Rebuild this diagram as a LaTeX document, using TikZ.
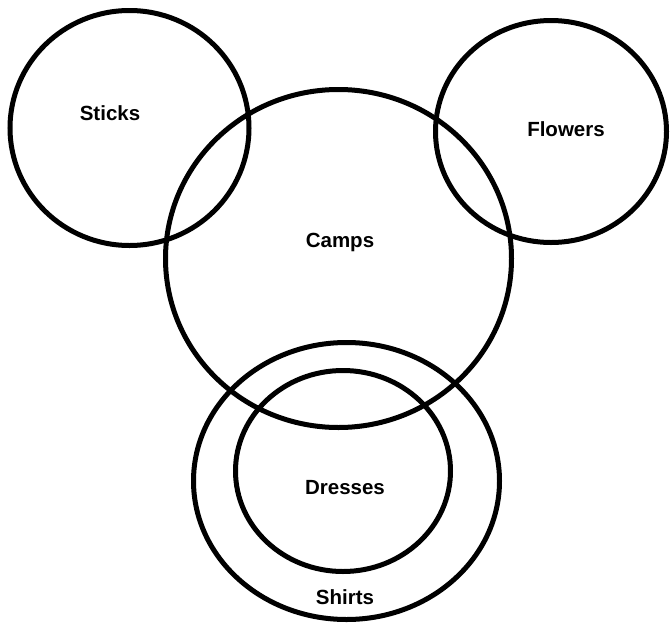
\documentclass[tikz,border=0pt]{standalone}
\usepackage{fontspec}
\setmainfont{Liberation Sans}
\begin{document}
\begin{tikzpicture}[x=1pt,y=-1pt,line width=5pt,font=\bfseries\fontsize{20.5}{24}\selectfont]
\useasboundingbox (0,0) rectangle (672,624);
\draw (129.5,128) ellipse [x radius=119.5pt,y radius=117.5pt];
\draw (551,131.5) ellipse [x radius=115.5pt,y radius=111pt];
\draw (338.5,258.5) ellipse [x radius=173pt,y radius=169pt];
\draw (346.5,481) ellipse [x radius=153pt,y radius=138.5pt];
\draw (343,471) ellipse [x radius=107.5pt,y radius=100.5pt];
\node (sticks) at (110,113) {Sticks};
\node (flowers) at (566,129) {Flowers};
\node (camps) at (340,242) {Camps};
\node (dresses) at (345,488) {Dresses};
\node (shirts) at (345,597) {Shirts};
\end{tikzpicture}
\end{document}
